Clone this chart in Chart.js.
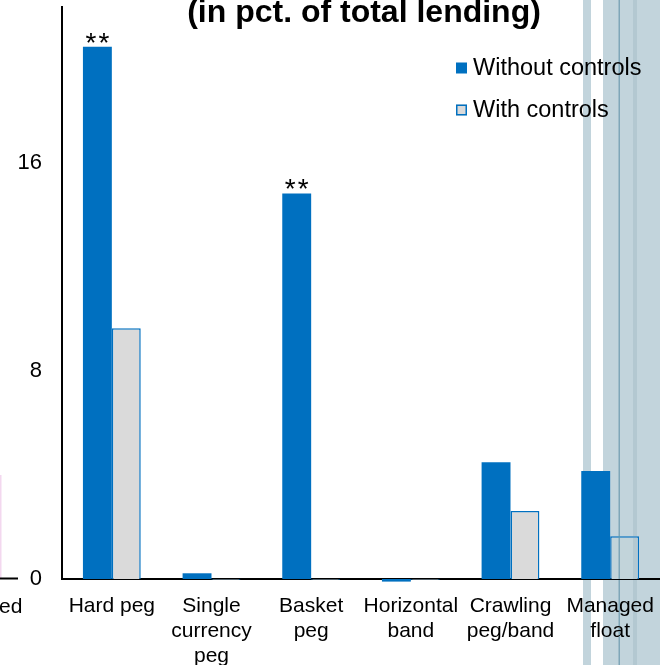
<!DOCTYPE html>
<html>
<head>
<meta charset="utf-8">
<script src="https://cdn.jsdelivr.net/npm/chart.js@4.4.1/dist/chart.umd.min.js"></script>
<style>
  html, body { margin: 0; padding: 0; background: #ffffff; }
  #wrap { position: relative; width: 660px; height: 665px; }
</style>
</head>
<body>
<div id="wrap"><canvas id="c" width="660" height="665"></canvas></div>
<script>
// Exchange-rate regimes on the horizontal axis
const categories = [
  'Hard peg',
  ['Single', 'currency', 'peg'],
  ['Basket', 'peg'],
  ['Horizontal', 'band'],
  ['Crawling', 'peg/band'],
  ['Managed', 'float']
];

// Effect on lending, in pct. of total lending
const withoutControls = [20.47, 0.22, 14.83, -0.10, 4.49, 4.15];
const withControls    = [9.64, -0.03, -0.03, -0.03, 2.62, 1.64];

// Significance markers above the "without controls" bars
const significance = ['**', '', '**', '', '', ''];

const seriesNames = ['Without controls', 'With controls'];
const yTickValues = [0, 8, 16];
const yMax = 22;

const titleText = '(in pct. of total lending)';
const FONT = '"Liberation Sans", Arial, Helvetica, sans-serif';
const BLUE = '#0070c0';
const GREY = '#dadada';

// Title, drawn from the top edge of the canvas
const titlePlugin = {
  id: 'titleLine',
  afterDraw(chart) {
    const ctx = chart.ctx;
    ctx.save();
    ctx.font = 'bold 32px ' + FONT;
    ctx.fillStyle = '#000';
    ctx.textAlign = 'center';
    ctx.textBaseline = 'alphabetic';
    ctx.fillText(titleText, 364, 22);
    ctx.restore();
  }
};

// Stars above the bars they belong to
const starsPlugin = {
  id: 'stars',
  afterDatasetsDraw(chart) {
    const ctx = chart.ctx;
    const meta = chart.getDatasetMeta(0);
    ctx.save();
    ctx.font = '28px ' + FONT;
    ctx.fillStyle = '#000';
    ctx.textAlign = 'center';
    ctx.textBaseline = 'alphabetic';
    if ('letterSpacing' in ctx) ctx.letterSpacing = '2px';
    meta.data.forEach((bar, i) => {
      if (significance[i]) ctx.fillText(significance[i], bar.x + 1, bar.y + 5);
    });
    ctx.restore();
  }
};

// Legend inside the plot, top right
const legendPlugin = {
  id: 'innerLegend',
  afterDraw(chart) {
    const ctx = chart.ctx;
    ctx.save();
    ctx.font = '23.5px ' + FONT;
    ctx.textBaseline = 'middle';
    ctx.textAlign = 'left';
    chart.data.datasets.forEach((ds, i) => {
      const y = 68 + i * 42;
      const sx = 456, sz = 11;
      ctx.fillStyle = ds.backgroundColor;
      ctx.fillRect(sx, y - sz / 2, sz, sz);
      if (ds.borderWidth) {
        ctx.strokeStyle = ds.borderColor;
        ctx.lineWidth = 1.5;
        ctx.strokeRect(sx + 0.75, y - sz / 2 + 0.75, sz - 1.5, sz - 1.5);
      }
      ctx.fillStyle = '#000';
      ctx.fillText(ds.label, 473, y + 1);
    });
    ctx.restore();
  }
};

// Edge of the adjoining panel on the left, and the tinted strip on the right
const framePlugin = {
  id: 'frame',
  afterDraw(chart) {
    const ctx = chart.ctx;
    const H = chart.height;
    ctx.save();
    // left neighbour
    ctx.fillStyle = '#f3d8ef';
    ctx.fillRect(0, 475, 1.5, 103);
    ctx.fillStyle = '#000';
    ctx.fillRect(0, 577.5, 18, 2);
    ctx.font = '21px ' + FONT;
    ctx.textAlign = 'left';
    ctx.textBaseline = 'alphabetic';
    ctx.fillText('ed', -1, 613);
    // right strip
    ctx.globalCompositeOperation = 'darken';
    ctx.fillStyle = '#c2d4dc';
    ctx.fillRect(583, 0, 8, H);
    ctx.fillRect(603, 0, 57, H);
    ctx.fillStyle = '#b3c8d1';
    ctx.fillRect(633, 0, 4, H);
    ctx.fillStyle = '#7fa6b8';
    ctx.fillRect(618.5, 0, 1.5, H);
    ctx.restore();
  }
};

function noPadding(scale) {
  scale.paddingTop = 0;
  scale.paddingBottom = 0;
  scale.paddingLeft = 0;
  scale.paddingRight = 0;
}

new Chart(document.getElementById('c'), {
  type: 'bar',
  data: {
    labels: categories,
    datasets: [
      {
        label: seriesNames[0],
        data: withoutControls,
        backgroundColor: BLUE,
        borderWidth: 0,
        clip: false
      },
      {
        label: seriesNames[1],
        data: withControls,
        backgroundColor: GREY,
        borderColor: BLUE,
        borderWidth: 1.5,
        clip: false
      }
    ]
  },
  options: {
    responsive: false,
    animation: false,
    devicePixelRatio: 1,
    categoryPercentage: 0.58,
    barPercentage: 1.0,
    layout: { padding: { top: 7, left: 0, right: 0, bottom: 0 } },
    plugins: {
      legend: { display: false },
      title: { display: false },
      tooltip: { enabled: false }
    },
    scales: {
      x: {
        z: 1,
        grid: { display: false, drawTicks: false },
        border: { display: true, color: '#000', width: 2 },
        ticks: {
          color: '#000',
          font: { family: FONT, size: 21, lineHeight: 1.18 },
          padding: 15,
          maxRotation: 0,
          autoSkip: false
        },
        afterFit(scale) { scale.height = 86; noPadding(scale); }
      },
      y: {
        z: 1,
        min: 0,
        max: yMax,
        grid: { display: false, drawTicks: false },
        border: { display: true, color: '#000', width: 2 },
        ticks: {
          color: '#000',
          font: { family: FONT, size: 22 },
          padding: 20,
          includeBounds: false
        },
        afterBuildTicks(scale) {
          scale.ticks = yTickValues.map(v => ({ value: v }));
        },
        afterFit(scale) { scale.width = 62; noPadding(scale); }
      }
    }
  },
  plugins: [framePlugin, titlePlugin, starsPlugin, legendPlugin]
});
</script>
</body>
</html>
